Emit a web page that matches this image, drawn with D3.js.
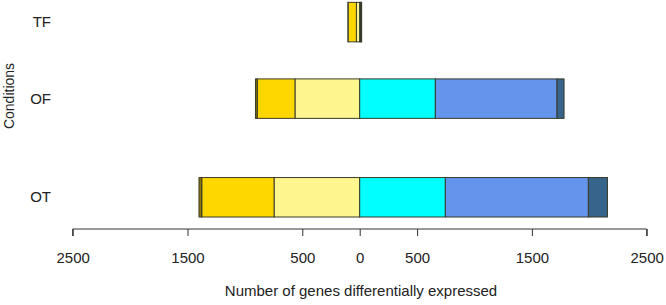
<!DOCTYPE html>
<html>
<head>
<meta charset="utf-8">
<script src="https://cdn.jsdelivr.net/npm/d3@7"></script>
<style>
  body { margin: 0; background: #fff; }
  text { font-family: "Liberation Sans", Arial, sans-serif; fill: #222; }
</style>
</head>
<body>
<svg id="chart" width="666" height="305"></svg>
<script>
// conditions, bottom to top (R barplot order) and the gap before each bar
let conditions = ["OT", "OF", "TF"];
let space = [0.2, 1.5, 0.94];

// down regulated (drawn left of 0), from 0 outwards
let downLight = [746, 564, 29];
let downGold = [630, 329, 72];
let downDark = [24, 15, 1];
// up regulated (drawn right of 0), from 0 outwards
let upCyan = [746, 659, 7];
let upBlue = [1246, 1060, 8];
let upDark = [166, 61, 2];

let xTicks = [-2500, -1500, -500, 0, 500, 1500, 2500];

let svg = d3.select('#chart');
let x = d3.scaleLinear().domain([-2500, 2500]).range([72.7, 646.7]);
let y = d3.scaleLinear().domain([0, 5.7]).range([224.9, 0]);

// bar positions like R's barplot(space=...)
let pos = [];
let acc = 0;
conditions.forEach(function(c, i){
    acc += space[i];
    pos.push(acc);
    acc += 1;
});

function stack(list, sign){
    let rows = [];
    conditions.forEach(function(c, i){
        let start = 0;
        list.forEach(function(s){
            let end = start + sign * s.vals[i];
            rows.push({i: i, x0: Math.min(start, end), x1: Math.max(start, end), color: s.color});
            start = end;
        });
    });
    return rows;
}

let segs = stack([
    {vals: downLight, color: '#FFF68F'},
    {vals: downGold, color: '#FFD700'},
    {vals: downDark, color: '#8B7500'}
], -1).concat(stack([
    {vals: upCyan, color: '#00FFFF'},
    {vals: upBlue, color: '#6495ED'},
    {vals: upDark, color: '#36648B'}
], 1));

svg.append('g').selectAll('rect').data(segs).enter().append('rect')
    .attr('x', function(d){ return x(d.x0); })
    .attr('width', function(d){ return x(d.x1) - x(d.x0); })
    .attr('y', function(d){ return y(pos[d.i] + 1); })
    .attr('height', function(d){ return y(pos[d.i]) - y(pos[d.i] + 1); })
    .attr('fill', function(d){ return d.color; })
    .attr('stroke', '#3a3a2a')
    .attr('stroke-width', 1);

// x axis
let xAxis = d3.axisBottom(x).tickValues(xTicks).tickSize(7).tickPadding(16)
    .tickFormat(function(d){ return Math.abs(d); });
let gx = svg.append('g').attr('transform', 'translate(0,229)').call(xAxis);
gx.select('.domain').attr('stroke', '#333').attr('d', 'M' + x(-2500) + ',7V0H' + x(2500) + 'V7');
gx.selectAll('.tick line').attr('stroke', '#333');
gx.selectAll('.tick text').style('font-size', '15px').attr('fill', '#222')
    .style('font-family', '"Liberation Sans", Arial, sans-serif');

// condition labels
svg.selectAll('.cond').data(conditions).enter().append('text')
    .attr('class', 'cond')
    .attr('x', 51)
    .attr('y', function(d, i){ return y(pos[i] + 0.5) + 5; })
    .attr('text-anchor', 'end')
    .style('font-size', '15px')
    .text(function(d){ return d; });

svg.append('text').attr('x', 361).attr('y', 296).attr('text-anchor', 'middle')
    .style('font-size', '15px').text('Number of genes differentially expressed');

svg.append('text').attr('transform', 'translate(14,96) rotate(-90)').attr('text-anchor', 'middle')
    .style('font-size', '14px').text('Conditions');
</script>
</body>
</html>
